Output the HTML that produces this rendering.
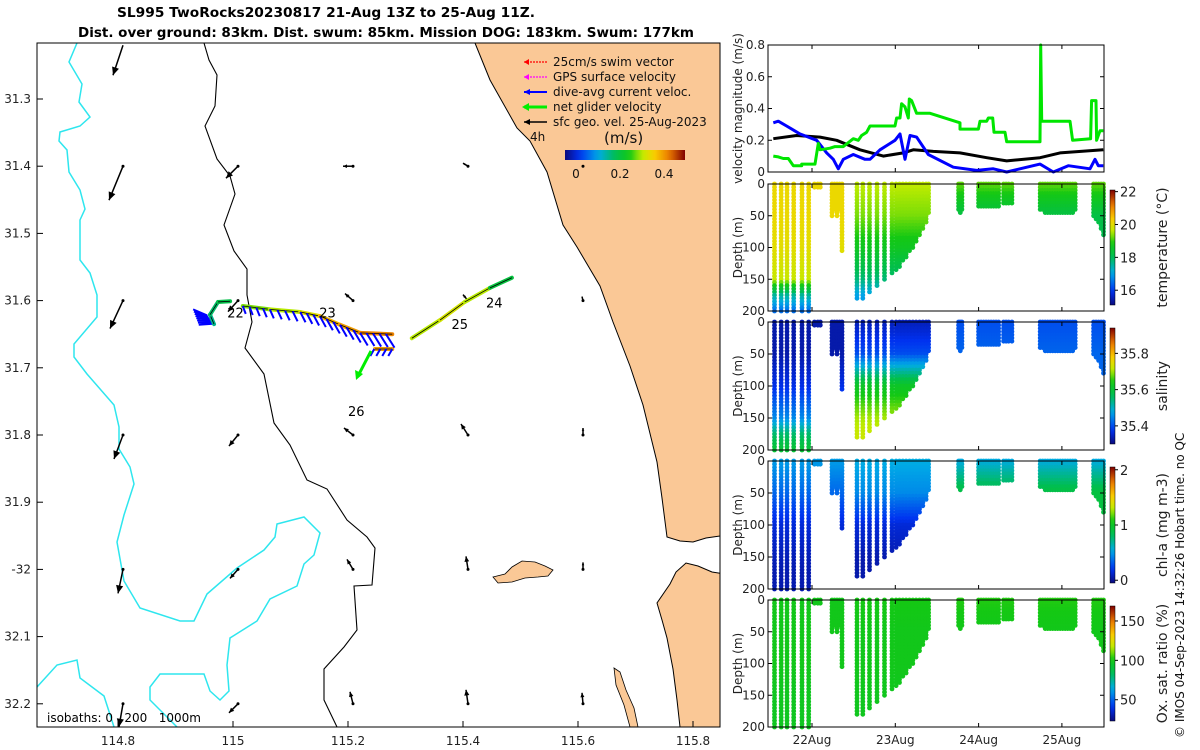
<!DOCTYPE html>
<html><head><meta charset="utf-8">
<style>
html,body{margin:0;padding:0;background:#fff;}
svg{display:block;font-family:"DejaVu Sans","Liberation Sans",sans-serif;}
.ttl{font-family:"DejaVu Sans","Liberation Sans",sans-serif;font-weight:bold;font-size:13px;}
</style></head>
<body>
<svg id="fig" xmlns="http://www.w3.org/2000/svg" width="1200" height="750" viewBox="0 0 1200 750">
<g fill="#000">
<text class="ttl" x="117" y="17" textLength="418" lengthAdjust="spacingAndGlyphs">SL995 TwoRocks20230817 21-Aug 13Z to 25-Aug 11Z.</text>
<text class="ttl" x="78" y="37" textLength="616" lengthAdjust="spacingAndGlyphs">Dist. over ground: 83km. Dist. swum: 85km. Mission DOG: 183km. Swum: 177km</text>
</g>
<defs><clipPath id="mapclip"><rect x="37" y="43" width="683" height="684"/></clipPath></defs>
<g id="map">
<g clip-path="url(#mapclip)">
<path fill="#fac896" stroke="#000" stroke-width="1" d="M475,43 L490,80 L517,128 L530,141 L547,172 L563,225 L577,247 L600,286 L613,322 L630,366 L643,405 L657,462 L662,498 L667,537 L680,541 L693,542 L706,538 L720,536 L725,43 Z"/>
<path fill="#fac896" stroke="#000" stroke-width="1" d="M725,574 L712,572 L698,566 L686,563 L676,572 L670,584 L657,603 L662,620 L667,638 L673,669 L677,700 L680,727 L725,730 Z"/>
<path fill="#fac896" stroke="#000" stroke-width="0.8" d="M493,577 L505,574 L512,567 L522,561 L535,562 L545,566 L553,570 L548,576 L538,577 L525,578 L512,582 L498,583 Z"/>
<path fill="#fac896" stroke="#000" stroke-width="0.8" d="M614,668 L620,672 L626,690 L634,708 L638,727 L630,727 L624,705 L616,685 Z"/>
<path fill="none" stroke="#000" stroke-width="1.1" d="M204,43 L209,60 L217,75 L215,106 L205,126 L217,159 L230,176 L235,194 L224,225 L234,251 L247,269 L247,295 L252,322 L245,348 L264,374 L274,423 L290,445 L307,480 L327,489 L347,520 L367,537 L375,548 L372,585 L354,586 L357,630 L344,647 L324,669 L324,700 L337,727"/>
<path fill="none" stroke="#2ee6ee" stroke-width="1.5" d="M77,43 L69,62 L82,84 L79,102 L90,117 L80,126 L60,132 L59,141 L67,150 L69,172 L80,190 L85,209 L80,220 L80,260 L90,273 L97,295 L97,317 L74,344 L74,357 L87,374 L114,405 L119,427 L119,449 L130,467 L134,484 L124,515 L117,542 L124,581 L140,608 L180,621 L194,621 L207,594 L237,568 L264,550 L275,537 L277,524 L304,517 L320,533 L314,555 L304,564 L297,586 L270,599 L257,621 L230,638 L227,665 L229,691 L220,700 L210,691 L204,674 L184,674 L160,674 L150,687 L150,700 L177,727"/>
<path fill="none" stroke="#2ee6ee" stroke-width="1.5" d="M37,687 L57,665 L77,660 L80,678 L104,696 L114,727"/>
<g id="geoArrows"></g>
<g id="track"></g>
</g>
<rect x="37" y="43" width="683" height="684" fill="none" stroke="#000" stroke-width="1"/>
<g id="mapAxes" font-size="12" fill="#222"></g>
<text x="47" y="722" font-size="12" xml:space="preserve" style="white-space:pre">isobaths: 0   200   1000m</text>
<g font-size="12" fill="#111">
<line x1="547" y1="62" x2="524" y2="62" stroke="#f00" stroke-width="1.2" stroke-dasharray="2 1"/><path d="M524,62 l5,-3 v6z" fill="#f00"/>
<text x="553" y="66">25cm/s swim vector</text>
<line x1="547" y1="77" x2="524" y2="77" stroke="#f0f" stroke-width="1.2" stroke-dasharray="2 1"/><path d="M524,77 l5,-3 v6z" fill="#f0f"/>
<text x="553" y="81">GPS surface velocity</text>
<line x1="547" y1="92" x2="524" y2="92" stroke="#00f" stroke-width="2"/><path d="M524,92 l6,-3 v6z" fill="#00f"/>
<text x="553" y="96">dive-avg current veloc.</text>
<line x1="547" y1="107" x2="524" y2="107" stroke="#0e0" stroke-width="3"/><path d="M522,107 l7,-4 v8z" fill="#0e0"/>
<text x="553" y="111">net glider velocity</text>
<line x1="547" y1="122" x2="524" y2="122" stroke="#000" stroke-width="1.5"/><path d="M524,122 l6,-3 v6z" fill="#000"/>
<text x="553" y="126">sfc geo. vel. 25-Aug-2023</text>
<text x="530" y="141">4h</text>
<text x="604" y="143" font-size="15">(m/s)</text>
<rect id="spdbar" x="565" y="150" width="120" height="10"/>
<text x="576" y="178" text-anchor="middle">0</text>
<text x="620" y="178" text-anchor="middle">0.2</text>
<text x="664" y="178" text-anchor="middle">0.4</text>
</g>
</g>
<g id="right"></g>
<text transform="translate(1184,738) rotate(-90)" font-size="12" fill="#111">© IMOS 04-Sep-2023 14:32:26 Hobart time. no QC</text>
</svg>
<script>
// ---------- data ----------
const geoLons=[114.8,115.0,115.2,115.4,115.6];
const geoLats=[31.22,31.4,31.6,31.8,32.0,32.2];
const geoU=[[-0.10,-0.14,-0.13,-0.09,-0.05,-0.04],[0,-0.12,-0.10,-0.09,-0.08,-0.09],[0,-0.10,-0.08,-0.09,-0.06,-0.03],[0,-0.05,-0.05,-0.07,-0.02,-0.02],[0,0,-0.01,0,0,-0.01]];
const geoV=[[-0.30,-0.34,-0.28,-0.24,-0.24,-0.23],[0,-0.12,-0.11,-0.11,-0.09,-0.09],[0,0,0.07,0.07,0.10,0.12],[0,0.03,0.06,0.11,0.13,0.14],[0,0,0.04,0.07,0.07,0.11]];
const trackLon=[114.967,114.960,114.974,114.995,115.017,115.064,115.117,115.151,115.186,115.221,115.277,115.277,115.247];
const trackLat=[31.635,31.621,31.602,31.601,31.608,31.613,31.617,31.623,31.636,31.648,31.650,31.672,31.672];
const trackSpd=[0.12,0.15,0.17,0.19,0.2,0.28,0.3,0.33,0.38,0.40,0.42,0.44,0.40];
const neLon=[115.311,115.360,115.403,115.447,115.485];
const neLat=[31.656,31.629,31.602,31.581,31.566];
const neSpd=[0.2,0.3,0.32,0.3,0.2];
const dayLabels=["22","23","24","25","26"];
const dayLon=[114.99,115.15,115.44,115.38,115.2];
const dayLat=[31.625,31.625,31.61,31.642,31.772];

const greenDays=[21.535,21.595,21.655,21.715,21.775,21.876,21.876,22.036,22.076,22.096,22.216,22.276,22.376,22.496,22.556,22.596,22.656,22.696,22.996,23.016,23.056,23.076,23.116,23.156,23.168,23.196,23.256,23.416,23.777,23.777,23.997,24.017,24.097,24.117,24.169,24.185,24.317,24.337,24.737,24.745,24.757,25.097,25.129,25.345,25.357,25.409,25.417,25.457,25.497];
const greenVals=[0.10,0.095,0.085,0.085,0.04,0.04,0.05,0.05,0.18,0.14,0.15,0.16,0.16,0.21,0.20,0.23,0.25,0.29,0.29,0.34,0.34,0.43,0.41,0.34,0.46,0.45,0.37,0.37,0.31,0.27,0.27,0.32,0.32,0.34,0.34,0.25,0.25,0.19,0.19,0.80,0.32,0.32,0.20,0.21,0.45,0.45,0.20,0.26,0.26];
const blueDays=[21.535,21.595,21.695,21.855,22.056,22.176,22.256,22.316,22.376,22.496,22.636,22.696,22.816,22.996,23.056,23.116,23.176,23.256,23.396,23.696,23.976,24.177,24.337,24.497,24.737,24.897,25.077,25.337,25.397,25.437,25.497];
const blueVals=[0.31,0.32,0.29,0.24,0.20,0.12,0.08,0.02,0.08,0.11,0.08,0.08,0.14,0.20,0.24,0.08,0.23,0.22,0.11,0.03,0.01,0.02,0.00,0.02,0.05,0.00,0.04,0.02,0.08,0.04,0.04];
const blackDays=[21.535,21.815,22.096,22.296,22.576,22.856,23.096,23.216,23.456,23.777,24.097,24.337,24.737,24.977,25.497];
const blackVals=[0.21,0.23,0.22,0.20,0.14,0.10,0.12,0.14,0.13,0.12,0.09,0.07,0.09,0.12,0.14];

const diveDays=[21.55,21.63,21.70,21.78,21.88,21.96,22.03,22.07,22.10,22.24,22.27,22.30,22.33,22.36,22.54,22.61,22.69,22.78,22.87,22.96,23.01,23.05,23.09,23.13,23.17,23.21,23.25,23.29,23.33,23.37,23.40,
 23.76,23.78,23.80,24.00,24.03,24.06,24.09,24.12,24.15,24.18,24.21,24.24,24.30,24.33,24.36,24.40,
 24.74,24.77,24.80,24.83,24.86,24.89,24.92,24.95,24.98,25.01,25.04,25.07,25.10,25.13,25.16,25.38,25.41,25.44,25.47,25.50];
const diveMax=[200,200,200,200,200,200,5,5,5,50,40,50,40,105,180,180,170,160,150,140,135,130,122,115,108,100,90,80,70,60,45,
 40,45,40,38,38,38,38,38,38,36,36,35,30,30,30,30,
 40,42,45,45,45,45,45,45,45,45,45,45,45,45,42,50,55,60,70,80];
const depthKnots=[0,50,100,150,175,200];
const tempEarly=[20.1,20.1,20.0,19.7,17.6,16.5], tempMid=[19.6,19.3,18.7,17.8,17.0,16.8], tempLate=[19.2,18.2,18.0,18.0,18.0,18.0];
const salEarly=[35.33,35.33,35.37,35.45,35.55,35.6], salMid=[35.34,35.40,35.62,35.70,35.72,35.72], salLate=[35.40,35.42,35.42,35.42,35.42,35.42];
const chlEarly=[0.5,0.35,0.15,0.08,0.06,0.06], chlMid=[0.55,0.45,0.15,0.06,0.05,0.05], chlLate=[0.55,0.9,0.9,0.9,0.9,0.9];
const oxEarly=[100,100,100,98,98,98], oxMid=[102,100,100,99,99,99], oxLate=[103,100,100,100,100,100];
const velTicks=[0,0.2,0.4,0.6,0.8];
const depthTicks=[0,50,100,150,200];
const dateTicks=[22,23,24,25];
const dateLabels=["22Aug","23Aug","24Aug","25Aug"];

// ---------- helpers ----------
const NS="http://www.w3.org/2000/svg";
function mk(tag,attrs,parent){const e=document.createElementNS(NS,tag);for(const k in attrs)e.setAttribute(k,attrs[k]);parent.appendChild(e);return e;}
const stops=[[0,[10,10,125]],[0.12,[0,50,240]],[0.28,[0,170,230]],[0.42,[0,190,80]],[0.54,[20,200,20]],[0.64,[190,235,0]],[0.74,[250,210,0]],[0.87,[235,120,0]],[1,[128,0,0]]];
function cmap(t){t=Math.max(0,Math.min(1,t));for(let i=1;i<stops.length;i++){if(t<=stops[i][0]){const a=stops[i-1],b=stops[i],f=(t-a[0])/(b[0]-a[0]);return `rgb(${a[1].map((v,j)=>Math.round(v+(b[1][j]-v)*f)).join(',')})`;}}return 'rgb(128,0,0)';}
function interp(xs,ys,x){if(x<=xs[0])return ys[0];for(let i=1;i<xs.length;i++)if(x<=xs[i]){const f=(x-xs[i-1])/(xs[i]-xs[i-1]);return ys[i-1]+f*(ys[i]-ys[i-1]);}return ys[ys.length-1];}
const lonX=l=>118+(l-114.8)*575, latY=l=>99+(l-31.3)*672;
const svg=document.getElementById('fig');

const defs=mk('defs',{},svg);
const gh=mk('linearGradient',{id:'hgrad',x1:0,y1:0,x2:1,y2:0},defs);for(let i=0;i<=20;i++)mk('stop',{offset:i/20,'stop-color':cmap(i/20)},gh);
const gv=mk('linearGradient',{id:'vgrad',x1:0,y1:1,x2:0,y2:0},defs);for(let i=0;i<=20;i++)mk('stop',{offset:i/20,'stop-color':cmap(i/20)},gv);
document.getElementById('spdbar').setAttribute('fill','url(#hgrad)');
const spdC=v=>cmap((v+0.05)/0.55);

const ma=document.getElementById('mapAxes');
[114.8,115,115.2,115.4,115.6,115.8].forEach(l=>{const x=lonX(l);mk('line',{x1:x,y1:727,x2:x,y2:721,stroke:'#000'},ma);const t=mk('text',{x:x,y:745,'text-anchor':'middle'},ma);t.textContent=String(l);});
[31.3,31.4,31.5,31.6,31.7,31.8,31.9,32.0,32.1,32.2].forEach(l=>{const y=latY(l);mk('line',{x1:37,y1:y,x2:43,y2:y,stroke:'#000'},ma);const t=mk('text',{x:31,y:y+4,'text-anchor':'end'},ma);t.textContent=l===32?'-32':l.toFixed(1);});

const ga=document.getElementById('geoArrows');
geoLons.forEach((lo,i)=>geoLats.forEach((la,j)=>{
 const x=lonX(lo)+5,y=latY(la),dx=geoU[i][j]*100,dy=-geoV[i][j]*100,L=Math.hypot(dx,dy);
 const a=mk('g',{},ga);
 
 
 if(j>0)mk('circle',{cx:x,cy:y,r:1.5,fill:'#000'},a);
 if(L>1){mk('line',{x1:x,y1:y,x2:x+dx,y2:y+dy,stroke:'#000','stroke-width':1.5},a);
 const ux=dx/L,uy=dy/L,h=Math.min(8,L*0.4);
 mk('path',{d:`M${x+dx},${y+dy} L${x+dx-ux*h-uy*h*0.45},${y+dy-uy*h+ux*h*0.45} L${x+dx-ux*h+uy*h*0.45},${y+dy-uy*h-ux*h*0.45}Z`,fill:'#000'},a);}
}));

const tr=document.getElementById('track');
for(let k=0;k<8;k++){const x0=lonX(114.955)+k*0.8,y0=latY(31.622)+k*1.2;mk('line',{x1:x0,y1:y0,x2:x0-14,y2:y0-6+k,stroke:'#00f','stroke-width':2},tr);}
function drawTrack(lons,lats,spd,label){
 const pts=lons.map((l,i)=>[lonX(l),latY(lats[i])]);
 for(let i=1;i<pts.length;i++){
   const seg=mk('line',{x1:pts[i-1][0],y1:pts[i-1][1],x2:pts[i][0],y2:pts[i][1],stroke:spdC(spd[i]),'stroke-width':4,'stroke-linecap':'round'},tr);
   
   
   mk('line',{x1:pts[i-1][0],y1:pts[i-1][1],x2:pts[i][0],y2:pts[i][1],stroke:'#000','stroke-width':0.8},tr);
 }
 return pts;
}
const p1=drawTrack(trackLon.slice(0,4),trackLat.slice(0,4),trackSpd.slice(0,4),'track-start');
const p2=drawTrack(trackLon.slice(4,11),trackLat.slice(4,11),trackSpd.slice(4,11),'track-main');
const p3=drawTrack(trackLon.slice(11),trackLat.slice(11),trackSpd.slice(11),'track-end');
const p4=drawTrack(neLon,neLat,neSpd,'track-northeast');
for(let i=1;i<p2.length;i++){const a=p2[i-1],b=p2[i];const n=Math.max(2,Math.round((b[0]-a[0])/7));for(let k=0;k<n;k++){const x=a[0]+(b[0]-a[0])*k/n,y=a[1]+(b[1]-a[1])*k/n;const f=(x-lonX(115.02))/(lonX(115.28)-lonX(115.02));const v=mk('line',{x1:x,y1:y,x2:x+3+f*6,y2:y+8+f*6,stroke:'#00f','stroke-width':2},tr);}}
for(let k=0;k<4;k++){const x=p3[0][0]-k*6,y=p3[0][1];mk('line',{x1:x,y1:y,x2:x-4,y2:y+7,stroke:'#00f','stroke-width':2},tr);}
{const x=p3[1][0]-4,y=p3[1][1]+2;const g=mk('line',{x1:x,y1:y,x2:x-13,y2:y+25,stroke:'#0e0','stroke-width':3},tr);mk('path',{d:`M${x-15},${y+29} L${x-16},${y+19} L${x-8},${y+23}Z`,fill:'#0e0'},tr);}
dayLabels.forEach((d,i)=>{const t=mk('text',{x:lonX(dayLon[i]),y:latY(dayLat[i]),'font-size':13,fill:'#000'},tr);t.textContent=d;});

const R=document.getElementById('right');
const X0=768,X1=1104;
const dX=d=>812+(d-22)*83.3;
function frame(y0,y1,name){const r=mk('rect',{x:X0,y:y0,width:X1-X0,height:y1-y0,fill:'none',stroke:'#000','stroke-width':1},R);}
function xticks(y0,y1,labels){dateTicks.forEach((d,i)=>{const x=dX(d);mk('line',{x1:x,y1:y1,x2:x,y2:y1-4,stroke:'#000'},R);mk('line',{x1:x,y1:y0,x2:x,y2:y0+4,stroke:'#000'},R);if(labels){const t=mk('text',{x:x,y:y1+17,'text-anchor':'middle','font-size':12,fill:'#222'},R);t.textContent=dateLabels[i];}});}
const VY0=45,VY1=172,vY=v=>VY1-v/0.8*(VY1-VY0);
velTicks.forEach(v=>{const y=vY(v);mk('line',{x1:X0,y1:y,x2:X0+4,y2:y,stroke:'#000'},R);mk('line',{x1:X1,y1:y,x2:X1-4,y2:y,stroke:'#000'},R);const t=mk('text',{x:X0-3,y:y+4,'text-anchor':'end','font-size':12,fill:'#222'},R);t.textContent=v===0?'0':v.toFixed(1);});
xticks(VY0,VY1,false);
function series(days,vals,color,w,name){const d=days.map((t,i)=>`${i?'L':'M'}${dX(t).toFixed(1)},${vY(vals[i]).toFixed(1)}`).join(' ');const p=mk('path',{d:d,fill:'none',stroke:color,'stroke-width':w,'stroke-linejoin':'round'},R);}
series(blackDays,blackVals,'#000',3,'sfc-geo-velocity-line');
series(blueDays,blueVals,'#0000ff',3,'dive-avg-current-line');
series(greenDays,greenVals,'#00e600',3,'net-glider-velocity-line');
frame(VY0,VY1,'velocity-panel');
{const t=mk('text',{transform:`translate(742,${(VY0+VY1)/2}) rotate(-90)`,'text-anchor':'middle','font-size':12,fill:'#222'},R);t.textContent='velocity magnitude (m/s)';}

const panels=[
 {y0:184,y1:311,name:'temperature',lo:15.1,hi:22.1,prof:[tempEarly,tempMid,tempLate],ticks:[16,18,20,22],lab:'temperature (°C)'},
 {y0:322,y1:450,name:'salinity',lo:35.3,hi:35.94,prof:[salEarly,salMid,salLate],ticks:[35.4,35.6,35.8],lab:'salinity'},
 {y0:461,y1:589,name:'chlorophyll',lo:-0.05,hi:2.05,prof:[chlEarly,chlMid,chlLate],ticks:[0,1,2],lab:'chl-a (mg m-3)'},
 {y0:600,y1:727,name:'oxygen',lo:23,hi:169,prof:[oxEarly,oxMid,oxLate],ticks:[50,100,150],lab:'Ox. sat. ratio (%)'}
];
panels.forEach((P,pi)=>{
 const g=mk('g',{},R);
 
 
 const zY=z=>P.y0+z/200*(P.y1-P.y0);
 diveDays.forEach((d,i)=>{
   const grp=d<22.45?0:(d<23.5?1:2);
   const prof=P.prof[grp];
   for(let z=0;z<=diveMax[i];z+=5){
     const v=interp(depthKnots,prof,z);
     mk('circle',{cx:dX(d).toFixed(1),cy:zY(z).toFixed(1),r:2.4,fill:cmap((v-P.lo)/(P.hi-P.lo))},g);
   }
 });
 frame(P.y0,P.y1,P.name+'-panel');
 depthTicks.forEach(z=>{const y=zY(z);mk('line',{x1:X0,y1:y,x2:X0+4,y2:y,stroke:'#000'},R);mk('line',{x1:X1,y1:y,x2:X1-4,y2:y,stroke:'#000'},R);const t=mk('text',{x:X0-3,y:y+4,'text-anchor':'end','font-size':12,fill:'#222'},R);t.textContent=z;});
 xticks(P.y0,P.y1,pi===3);
 const yt=mk('text',{transform:`translate(742,${(P.y0+P.y1)/2}) rotate(-90)`,'text-anchor':'middle','font-size':12,fill:'#222'},R);yt.textContent='Depth (m)';
 
 const cy0=P.y0+6,cy1=P.y1-6;
 const cb=mk('rect',{x:1110,y:cy0,width:5,height:cy1-cy0,fill:'url(#vgrad)',stroke:'#000','stroke-width':0.5},R);
 
 P.ticks.forEach(v=>{const y=cy1-(v-P.lo)/(P.hi-P.lo)*(cy1-cy0);mk('line',{x1:1115,y1:y,x2:1118,y2:y,stroke:'#000'},R);const t=mk('text',{x:1120,y:y+5,'font-size':13,fill:'#222'},R);t.textContent=v;});
 const ct=mk('text',{transform:`translate(1167,${(P.y0+P.y1)/2}) rotate(-90)`,'text-anchor':'middle','font-size':14,fill:'#222'},R);ct.textContent=P.lab;
 
});
</script>
</body></html>
